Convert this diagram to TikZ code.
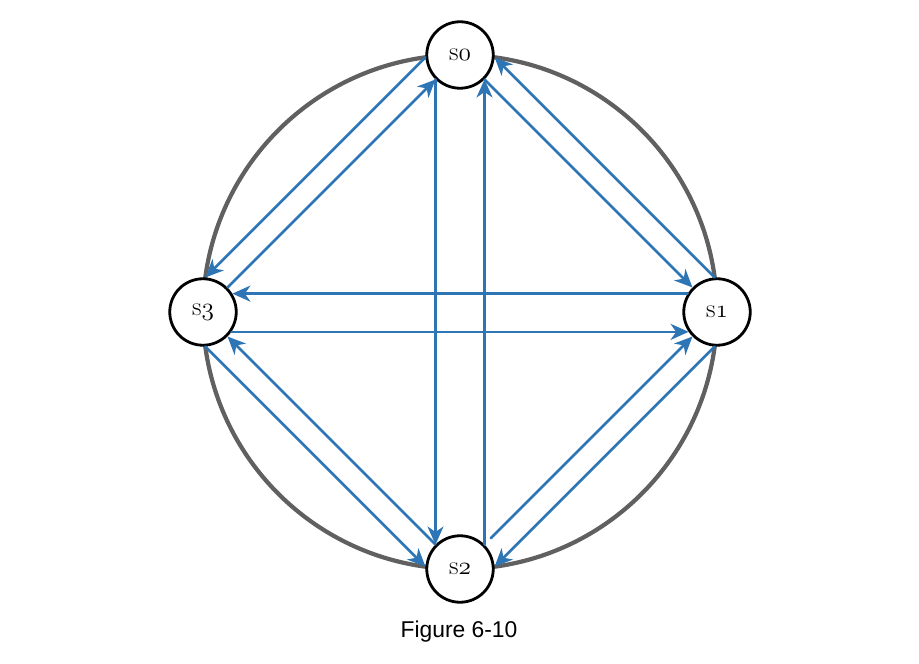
\documentclass[tikz,border=0pt]{standalone}
\usepackage{fontspec}
\newfontfamily\capfont{Liberation Sans}
\usetikzlibrary{arrows.meta,positioning}
\newcommand{\osnum}[1]{{\usefont{OML}{lmm}{m}{it}#1}}
\definecolor{linkblue}{RGB}{46,117,182}
\definecolor{ringgray}{RGB}{96,96,96}
\tikzset{
  every picture/.append style={line cap=round,line join=round},
  server/.style={circle,draw=black,fill=white,line width=1.6pt,minimum size=1.33cm,inner sep=0pt,font=\fontsize{15}{17}\selectfont},
  ring/.style={draw=ringgray,line width=2.4pt},
  link/.style={draw=linkblue,line width=1.5pt,-{Stealth[length=3.6mm,width=3.2mm,inset=1.1mm]}},
  caption/.style={font=\capfont\fontsize{13}{15}\selectfont}
}

\begin{document}
\begin{tikzpicture}[x=0.02cm,y=0.02cm]
\useasboundingbox (0,0) rectangle (919,663);
\coordinate (c) at (460,351);
\draw[ring] (c) circle[radius=257];

\node[server] (s0) at (460,608) {s\osnum{0}};
\node[server] (s1) at (717,351) {s\osnum{1}};
\node[server] (s2) at (460,94) {s\osnum{2}};
\node[server] (s3) at (203,351) {s\osnum{3}};

% diagonals
\draw[link] (s3.45) -- (s0.225);
\draw[link] (s0.184) -- (s3.86);
\draw[link] (s0.315) -- (s1.135);
\draw[link] (s1.94) -- (s0.356);
\draw[link,shorten <=5pt] (s2.45) -- (s1.225);
\draw[link] (s1.266) -- (s2.4);
\draw[link] (s2.135) -- (s3.315);
\draw[link] (s3.274) -- (s2.176);

% across
\draw[link] (s0.225) -- (s2.135);
\draw[link] (s2.45) -- (s0.315);
\draw[link] (s1.148) -- (s3.32);
\draw[link] (s3.325) -- (s1.215);

\node[caption] (cap) at (459,31) {Figure 6-10};
\end{tikzpicture}
\end{document}
